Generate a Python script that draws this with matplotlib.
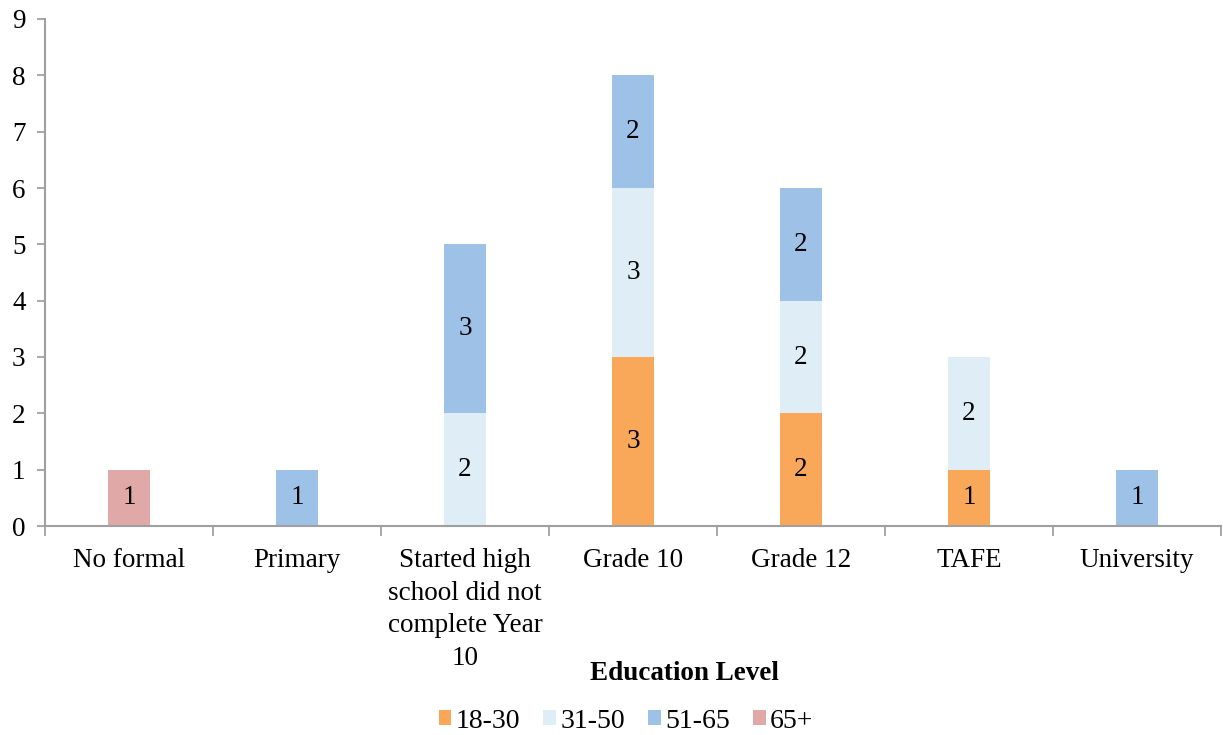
import numpy as np
import matplotlib
matplotlib.use('Agg')
import matplotlib.pyplot as plt
from matplotlib.patches import Patch

plt.rcParams['font.family'] = ['Liberation Serif', 'DejaVu Serif']

categories = ['No formal', 'Primary',
              'Started high\nschool did not\ncomplete Year\n10',
              'Grade 10', 'Grade 12', 'TAFE', 'University']
age_groups = ['18-30', '31-50', '51-65', '65+']
age_18_30 = [0, 0, 0, 3, 2, 1, 0]
age_31_50 = [0, 0, 2, 3, 2, 2, 0]
age_51_65 = [0, 1, 3, 2, 2, 0, 1]
age_65_plus = [1, 0, 0, 0, 0, 0, 0]
colors = ['#F9A85A', '#DFEEF6', '#9EC1E8', '#E1A8A8']

series = [age_18_30, age_31_50, age_51_65, age_65_plus]

fig = plt.figure(figsize=(12.23, 7.35), dpi=100)
ax = fig.add_axes([45 / 1223, 209 / 735, 1176 / 1223, 507 / 735])

x = np.arange(len(categories))
bottom = np.zeros(len(categories))
for vals, col in zip(series, colors):
    vals = np.array(vals, dtype=float)
    ax.bar(x, vals, width=0.25, bottom=bottom, color=col, zorder=2)
    for xi, v, b in zip(x, vals, bottom):
        if v > 0:
            ax.text(xi, b + v / 2, f'{int(v)}', ha='center', va='center', fontsize=19.5, zorder=3)
    bottom += vals

ax.set_xlim(-0.5, len(categories) - 0.5)
ax.set_ylim(0, 9)
ax.set_yticks(range(10))
ax.tick_params(axis='y', labelsize=19.5, length=6, color='#A0A0A0', width=1.3, pad=8)

# category boundaries get the tick marks, names sit centred between them
ax.set_xticks(np.arange(-0.5, len(categories)), minor=False)
ax.set_xticklabels([])
ax.set_xticks(x, minor=True)
ax.set_xticklabels(categories, minor=True, fontsize=19.5, va='top', linespacing=1.4)
ax.tick_params(axis='x', which='major', length=7, color='#A0A0A0', width=1.3)
ax.tick_params(axis='x', which='minor', length=0, pad=16)

for side in ['top', 'right']:
    ax.spines[side].set_visible(False)
for side in ['left', 'bottom']:
    ax.spines[side].set_color('#A0A0A0')
    ax.spines[side].set_linewidth(1.5)

fig.text(684 / 1223, 1 - 673 / 735, 'Education Level', ha='center', va='center',
         fontsize=19.5, fontweight='bold')

handles = [Patch(facecolor=c, edgecolor='none') for c in colors]
fig.legend(handles, age_groups, loc='center', bbox_to_anchor=(626 / 1223, 1 - 721 / 735),
           ncol=4, frameon=False, fontsize=20, handlelength=0.45, handleheight=0.45,
           handletextpad=0.15, columnspacing=0.85)

fig.savefig('out.png', dpi=100)
